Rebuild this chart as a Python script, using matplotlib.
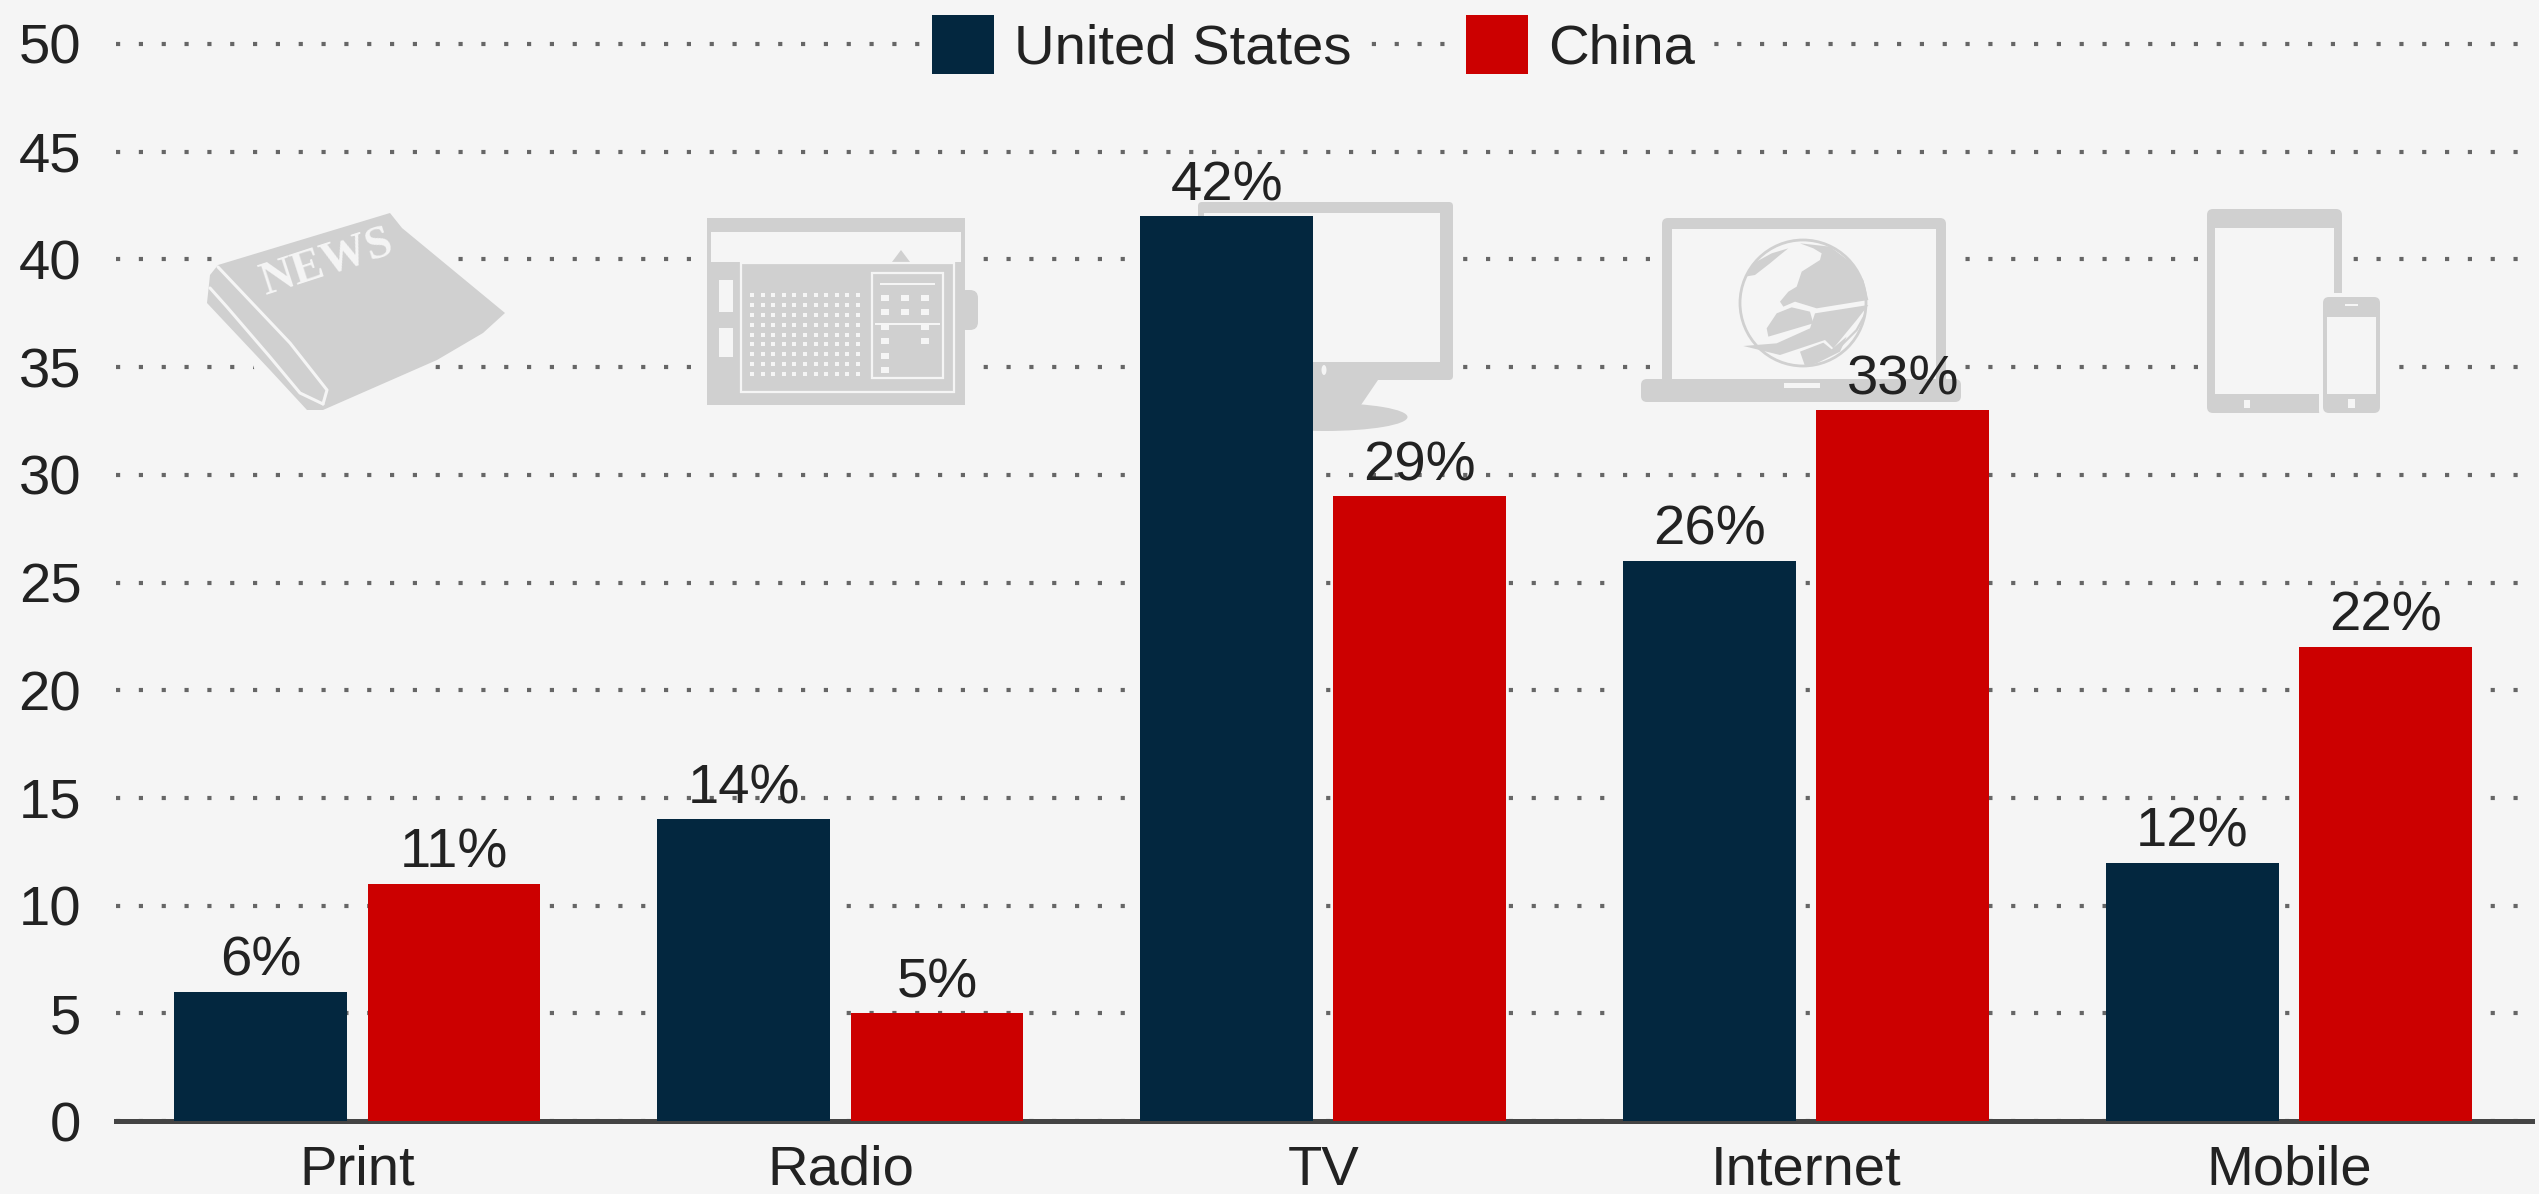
import numpy as np
import matplotlib
matplotlib.use("Agg")
import matplotlib.pyplot as plt
from matplotlib.patches import Rectangle, Polygon, Ellipse, FancyBboxPatch, PathPatch
from matplotlib.path import Path
from matplotlib.transforms import Affine2D

categories = ["Print", "Radio", "TV", "Internet", "Mobile"]
us_values = [6, 14, 42, 26, 12]
china_values = [11, 5, 29, 33, 22]
series_names = ["United States", "China"]
y_ticks = [0, 5, 10, 15, 20, 25, 30, 35, 40, 45, 50]

W, H = 2539, 1194
BG = "#f5f5f5"
NAVY = "#03273f"
RED = "#cc0000"
ICON = "#d0d0d0"
TEXT = "#222222"
FS = 40.5

plt.rcParams["font.family"] = ["Liberation Sans", "DejaVu Sans"]

fig = plt.figure(figsize=(W / 100, H / 100), dpi=100, facecolor=BG)
ax = fig.add_axes([116 / W, (H - 1121) / H, (2532 - 116) / W, (1121 - 44) / H])
ax.set_facecolor("none")

# pixel coordinates, origin top left, for the icons and the legend
pix = Affine2D().scale(1 / W, -1 / H).translate(0, 1) + fig.transFigure

x = np.arange(len(categories))
bar_w = 0.358
bars_us = ax.bar(x - 0.2, us_values, bar_w, color=NAVY, zorder=3, label=series_names[0])
bars_cn = ax.bar(x + 0.2, china_values, bar_w, color=RED, zorder=3, label=series_names[1])
ax.bar_label(bars_us, fmt="%g%%", padding=3, fontsize=FS, color=TEXT, zorder=5)
ax.bar_label(bars_cn, fmt="%g%%", padding=3, fontsize=FS, color=TEXT, zorder=5)

ax.set_xlim(-0.5, 4.503)
ax.set_ylim(0, 50)
ax.set_yticks(y_ticks)
ax.set_xticks(x, categories)
ax.tick_params(axis="both", length=0, labelsize=FS, labelcolor=TEXT)
ax.tick_params(axis="y", pad=25)
ax.tick_params(axis="x", pad=17)

for name in ["top", "left", "right"]:
    ax.spines[name].set_visible(False)
ax.spines["bottom"].set_color("#444444")
ax.spines["bottom"].set_linewidth(3.6)

ax.set_axisbelow(True)
ax.grid(axis="y", color="#666666", linewidth=3.0, linestyle=(0, (1, 4.48)))
for line in ax.get_ygridlines():
    line.set_clip_on(False)
    line.set_zorder(0.5)


def rect(x0, y0, x1, y1, color=ICON, z=1.2):
    ax.add_patch(Rectangle((x0, y0), x1 - x0, y1 - y0, facecolor=color, edgecolor="none",
                           transform=pix, zorder=z, clip_on=False))


def rrect(x0, y0, x1, y1, r=5, color=ICON, z=1.2):
    ax.add_patch(FancyBboxPatch((x0 + r, y0 + r), x1 - x0 - 2 * r, y1 - y0 - 2 * r,
                                boxstyle=f"round,pad={r},rounding_size={r}", facecolor=color,
                                edgecolor="none", transform=pix, zorder=z, clip_on=False))


def poly(points, color=ICON, z=1.2):
    ax.add_patch(Polygon(points, closed=True, facecolor=color, edgecolor="none",
                         transform=pix, zorder=z, clip_on=False))


def outline(x0, y0, x1, y1, color=BG, lw=2.0, z=1.3):
    ax.add_patch(Rectangle((x0, y0), x1 - x0, y1 - y0, facecolor="none", edgecolor=color,
                           linewidth=lw, transform=pix, zorder=z, clip_on=False))


def stroke(points, color=BG, lw=2.0, z=1.3):
    ax.add_patch(PathPatch(Path(points), facecolor="none", edgecolor=color, linewidth=lw,
                           transform=pix, zorder=z, clip_on=False, capstyle="round",
                           joinstyle="round"))


# background blocks that break the dotted lines around icons and legend entries
rect(925, 10, 1358, 80, BG, 1.0)
rect(1455, 10, 1706, 80, BG, 1.0)
poly([(212, 245), (450, 245), (450, 300), (432, 380), (258, 380)], BG, 1.0)
rect(696, 210, 976, 410, BG, 1.0)
rect(1190, 195, 1456, 435, BG, 1.0)
rect(1655, 210, 1958, 410, BG, 1.0)
rect(2202, 204, 2346, 300, BG, 1.0)
rect(2202, 300, 2392, 418, BG, 1.0)

# newspaper
poly([(218, 265), (390, 213), (402, 228), (505, 313), (483, 333), (437, 360), (323, 410),
      (307, 410), (270, 370), (207, 303), (210, 275)])
stroke([(218, 267), (290, 343), (327, 390), (323, 404)], lw=2.2)
stroke([(323, 404), (300, 393), (270, 357), (227, 307), (210, 288)], lw=2.2)
ax.text(327, 263, "NEWS", family="Liberation Serif", weight="bold", fontsize=33.5, color=BG,
        rotation=18, rotation_mode="anchor", ha="center", va="center", transform=pix,
        zorder=1.4, clip_on=False)

# radio
rect(707, 262, 965, 405)
rrect(707, 218, 965, 232, 3)
rect(707, 218, 711, 262)
rect(961, 218, 965, 262)
poly([(892, 262), (901, 250), (910, 262)])
rrect(958, 290, 978, 330, 8)
outline(741, 263, 954, 392, lw=1.6)
outline(872, 273, 943, 378, lw=1.6)
rect(719, 280, 733, 312, BG, 1.3)
rect(719, 328, 733, 357, BG, 1.3)
for sx in np.linspace(752, 858, 11):
    for sy in np.linspace(295, 374, 9):
        rect(sx - 2, sy - 2, sx + 2, sy + 2, BG, 1.3)
rect(880, 283, 935, 285, BG, 1.3)
rect(875, 323, 940, 325, BG, 1.3)
for sx in [885, 905, 925]:
    for sy in np.linspace(298, 370, 6):
        if (sx == 905 and sy > 320) or (sx == 925 and sy > 350):
            continue
        rect(sx - 4, sy - 3, sx + 4, sy + 3, BG, 1.3)

# monitor
rrect(1198, 202, 1453, 380, 4)
rect(1204, 213, 1440, 362, BG, 1.3)
ax.add_patch(Ellipse((1324, 370), 5, 10, facecolor=BG, edgecolor="none", transform=pix,
                     zorder=1.3))
poly([(1275, 380), (1378, 380), (1361, 405), (1290, 405)])
ax.add_patch(Ellipse((1325, 417), 165, 28, facecolor=ICON, edgecolor="none", transform=pix,
                     zorder=1.2, clip_on=False))

# laptop
rrect(1662, 218, 1946, 392, 6)
rect(1672, 229, 1936, 379, BG, 1.3)
rrect(1641, 379, 1961, 402, 6, z=1.35)
rect(1784, 383, 1820, 388, BG, 1.4)


def globe(points):
    return [(1700 + gx / 3, 220 + gy / 3) for gx, gy in points]


# globe on the laptop screen: thin ring with the land masses on top
ax.add_patch(Ellipse((1803, 303), 126, 126, facecolor="none", edgecolor=ICON, linewidth=2.0,
                     transform=pix, zorder=1.35, clip_on=False))
poly(globe([(135, 170), (160, 130), (215, 100), (265, 85), (240, 105), (210, 130), (165, 165)]),
     z=1.4)
poly(globe([(300, 70), (390, 80), (450, 125), (490, 180), (505, 240), (350, 265), (285, 245),
            (250, 260), (240, 245), (265, 215), (290, 200), (305, 155), (360, 120), (365, 100),
            (340, 85)]), z=1.4)
poly(globe([(200, 325), (230, 280), (275, 262), (330, 275), (340, 310), (205, 350)]), z=1.4)
poly(globe([(130, 378), (230, 370), (330, 325), (345, 280), (505, 255), (470, 300), (400, 385),
            (375, 360), (240, 405)]), z=1.4)
poly(globe([(300, 395), (370, 368), (395, 388), (440, 350), (420, 395), (350, 430), (315, 438)]),
     z=1.4)
stroke(globe([(495, 285), (470, 330), (420, 380)]), ICON, 1.6, 1.4)

# tablet and phone
rrect(2207, 209, 2342, 413, 6)
rect(2215, 228, 2334, 394, BG, 1.3)
rrect(2319, 293, 2384, 417, 6, BG, 1.35)
rrect(2323, 297, 2380, 413, 6, z=1.4)
rect(2327, 317, 2376, 394, BG, 1.45)
rect(2244, 400, 2250, 408, BG, 1.4)
rect(2345, 304, 2358, 306, BG, 1.45)
rect(2348, 399, 2355, 408, BG, 1.45)

handles = [bars_us, bars_cn]
leg = ax.legend(handles, series_names, loc="center left", bbox_to_anchor=(932, 45),
                bbox_transform=pix, ncols=2, frameon=False, fontsize=FS, labelcolor=TEXT,
                handlelength=1.1, handleheight=1.25, handletextpad=0.36, columnspacing=2.04,
                borderpad=0, borderaxespad=0)
leg.set_zorder(6)

fig.savefig("out.png", dpi=100, facecolor=BG)
